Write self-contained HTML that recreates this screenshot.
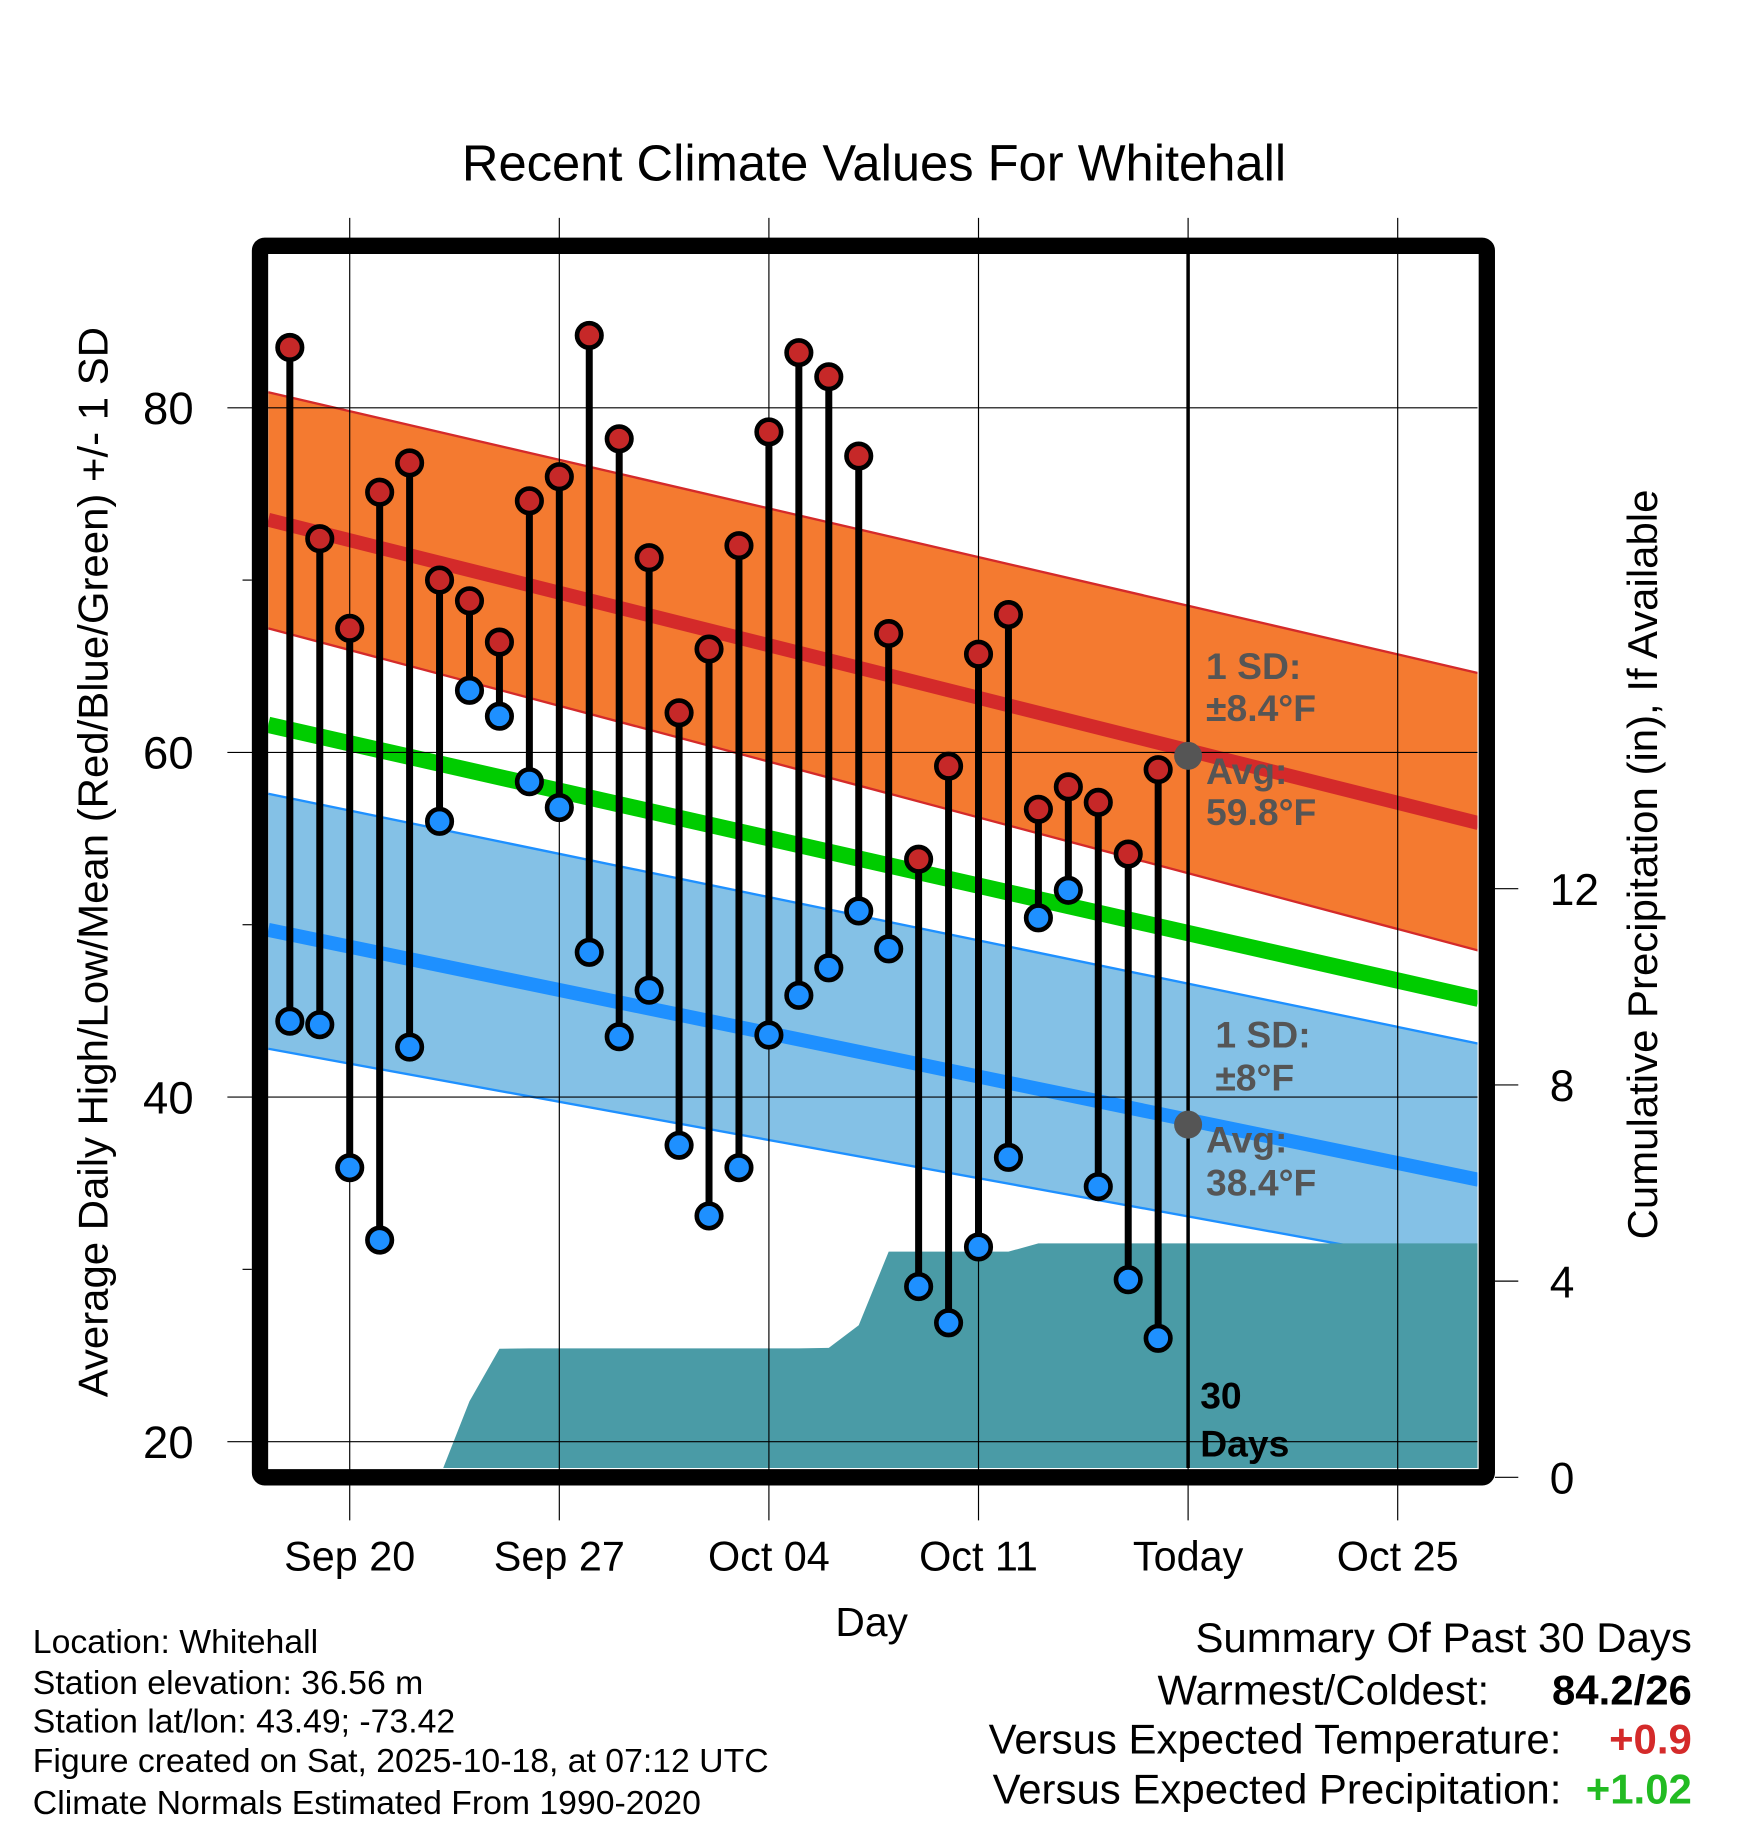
<!DOCTYPE html>
<html><head><meta charset="utf-8"><style>
html,body{margin:0;padding:0;background:#fff}
svg{display:block;font-family:"Liberation Sans",sans-serif}
</style></head><body>
<svg id="chart" width="1748" height="1828" viewBox="0 0 1500 1569" xmlns="http://www.w3.org/2000/svg">
<text x="750" y="155" text-anchor="middle" font-size="43.5">Recent Climate Values For Whitehall</text>
<g id="plot"></g>
<text transform="translate(92,740) rotate(-90)" text-anchor="middle" font-size="36">Average Daily High/Low/Mean (Red/Blue/Green) +/- 1 SD</text>
<text transform="translate(1422,742) rotate(-90)" text-anchor="middle" font-size="36">Cumulative Precipitation (in), If Available</text>
<text x="748" y="1404" text-anchor="middle" font-size="35">Day</text>
<g font-size="29">
<text x="28" y="1419">Location: Whitehall</text>
<text x="28" y="1454">Station elevation: 36.56 m</text>
<text x="28" y="1487">Station lat/lon: 43.49; -73.42</text>
<text x="28" y="1521">Figure created on Sat, 2025-10-18, at 07:12 UTC</text>
<text x="28" y="1557">Climate Normals Estimated From 1990-2020</text>
</g>
<g font-size="36">
<text x="1452" y="1418" text-anchor="end">Summary Of Past 30 Days</text>
<text x="1278" y="1463" text-anchor="end">Warmest/Coldest:</text>
<text x="1452" y="1463" text-anchor="end" font-weight="bold">84.2/26</text>
<text x="1340" y="1505" text-anchor="end">Versus Expected Temperature:</text>
<text x="1452" y="1505" text-anchor="end" font-weight="bold" fill="#d42a2a">+0.9</text>
<text x="1340" y="1548" text-anchor="end">Versus Expected Precipitation:</text>
<text x="1452" y="1548" text-anchor="end" font-weight="bold" fill="#22bb22">+1.02</text>
</g>
</svg>
<script>
const highs=[83.5,72.4,67.2,75.1,76.8,70.0,68.8,66.4,74.6,76.0,84.2,78.2,71.3,62.3,66.0,72.0,78.6,83.2,81.8,77.2,66.9,53.8,59.2,65.7,68.0,56.7,58.0,57.1,54.1,59.0];
const lows=[44.4,44.2,35.9,31.7,42.9,56.0,63.6,62.1,58.3,56.8,48.4,43.5,46.2,37.2,33.1,35.9,43.6,45.9,47.5,50.8,48.6,29.0,26.9,31.3,36.5,50.4,52.0,34.8,29.4,26.0];
const precip=[0,0,0,0,0,0,1.55,2.62,2.63,2.63,2.63,2.63,2.63,2.63,2.63,2.63,2.63,2.63,2.64,3.1,4.6,4.6,4.6,4.6,4.6,4.77,4.77,4.77,4.77,4.77];
const normDays=[-2.72,37.7];
const normHighAvg=[73.5,55.9];
const normHighUp=[80.9,64.6];
const normHighLo=[67.2,48.5];
const normMean=[61.6,45.7];
const normLowAvg=[49.7,35.2];
const normLowUp=[57.6,43.1];
const normLowLo=[42.8,30.0];
const yTicks=[20,40,60,80];
const yMinor=[30,50,70];
const pTicks=[0,4,8,12];
const xTickDays=[0,7,14,21,28,35];
const xTickLabels=["Sep 20","Sep 27","Oct 04","Oct 11","Today","Oct 25"];
const firstDay=-2;

const L=230,R=1268,T=218,B=1260;
const X=d=>300+d*25.7;
const Y=v=>350+(80-v)*14.79;
const P=v=>1268-v*42.1;
const NS='http://www.w3.org/2000/svg';
const g=document.getElementById('plot');
function mk(tag,at,parent){const e=document.createElementNS(NS,tag);for(const k in at)e.setAttribute(k,at[k]);(parent||g).appendChild(e);return e;}

const defs=mk('defs',{});
const cp=mk('clipPath',{id:'clip'},defs);mk('rect',{x:L,y:T,width:R-L,height:B-T},cp);
const cg=mk('g',{'clip-path':'url(#clip)'});

function bandPts(up,lo){const xs=normDays.map(X);return `${xs[0]},${Y(up[0])} ${xs[1]},${Y(up[1])} ${xs[1]},${Y(lo[1])} ${xs[0]},${Y(lo[0])}`;}
function line(arr,color,w,name){const e=mk('line',{x1:X(normDays[0]),y1:Y(arr[0]),x2:X(normDays[1]),y2:Y(arr[1]),stroke:color,'stroke-width':w},cg);

}
let b=mk('polygon',{points:bandPts(normHighUp,normHighLo),fill:'#f47a30'},cg);


line(normHighUp,'#d42a2a',2,'high-band-upper');line(normHighLo,'#d42a2a',2,'high-band-lower');
b=mk('polygon',{points:bandPts(normLowUp,normLowLo),fill:'#84c1e6'},cg);


line(normLowUp,'#1e90ff',2,'low-band-upper');line(normLowLo,'#1e90ff',2,'low-band-lower');
line(normHighAvg,'#d42a2a',12,'high-average-line');
line(normMean,'#00cc00',14,'mean-line');
line(normLowAvg,'#1e90ff',12,'low-average-line');

let pts=`${X(firstDay+5)},${B+5} `;
precip.forEach((v,i)=>{if(i>=5)pts+=`${X(firstDay+i)},${P(v)} `;});
pts+=`${R},${P(precip[precip.length-1])} ${R},${B+5}`;
const pa=mk('polygon',{points:pts,fill:'#4a9ba6'},cg);



xTickDays.forEach((d,i)=>{const e=mk('line',{x1:X(d),y1:187,x2:X(d),y2:1305,stroke:'#000','stroke-width':1});


const t=mk('text',{x:X(d),y:1348,'text-anchor':'middle','font-size':35.5});t.textContent=xTickLabels[i];

});
yTicks.forEach(v=>{const e=mk('line',{x1:195,y1:Y(v),x2:R,y2:Y(v),stroke:'#000','stroke-width':1});


const t=mk('text',{x:166,y:Y(v)+14,'text-anchor':'end','font-size':39});t.textContent=v;

});
yMinor.forEach(v=>{const e=mk('line',{x1:208,y1:Y(v),x2:216,y2:Y(v),stroke:'#000','stroke-width':1});

});
pTicks.forEach(v=>{const e=mk('line',{x1:1283,y1:P(v),x2:1303,y2:P(v),stroke:'#000','stroke-width':1});


const t=mk('text',{x:1330,y:P(v)+14,'font-size':38});t.textContent=v;

});

const tl=mk('line',{x1:X(28),y1:T,x2:X(28),y2:B,stroke:'#000','stroke-width':3});



highs.forEach((h,i)=>{const x=X(firstDay+i);
const s=mk('line',{x1:x,y1:Y(h),x2:x,y2:Y(lows[i]),stroke:'#000','stroke-width':6});


const c1=mk('circle',{cx:x,cy:Y(h),r:10.5,fill:'#c62828',stroke:'#000','stroke-width':4});


const c2=mk('circle',{cx:x,cy:Y(lows[i]),r:10.5,fill:'#1e90ff',stroke:'#000','stroke-width':4});

});

const dh=mk('circle',{cx:X(28),cy:Y(59.8),r:12,fill:'#555'});


const dl=mk('circle',{cx:X(28),cy:Y(38.4),r:12,fill:'#555'});


function lab(txt,x,y,col,name){const t=mk('text',{x:x,y:y,'font-size':32,'font-weight':'bold',fill:col});t.textContent=txt;

}
lab('1 SD:',1035,583,'#555','high-sd-label');lab('±8.4°F',1035,619,'#555','high-sd-value');
lab('Avg:',1035,673,'#555','high-avg-label');lab('59.8°F',1035,708,'#555','high-avg-value');
lab('1 SD:',1043,899,'#555','low-sd-label');lab('±8°F',1043,936,'#555','low-sd-value');
lab('Avg:',1035,989,'#555','low-avg-label');lab('38.4°F',1035,1026,'#555','low-avg-value');
lab('30',1030,1209,'#000','days-count');lab('Days',1030,1250,'#000','days-label');

const fr=mk('rect',{x:223,y:211,width:1053,height:1057,fill:'none',stroke:'#000','stroke-width':14,rx:4});


</script>
</body></html>
